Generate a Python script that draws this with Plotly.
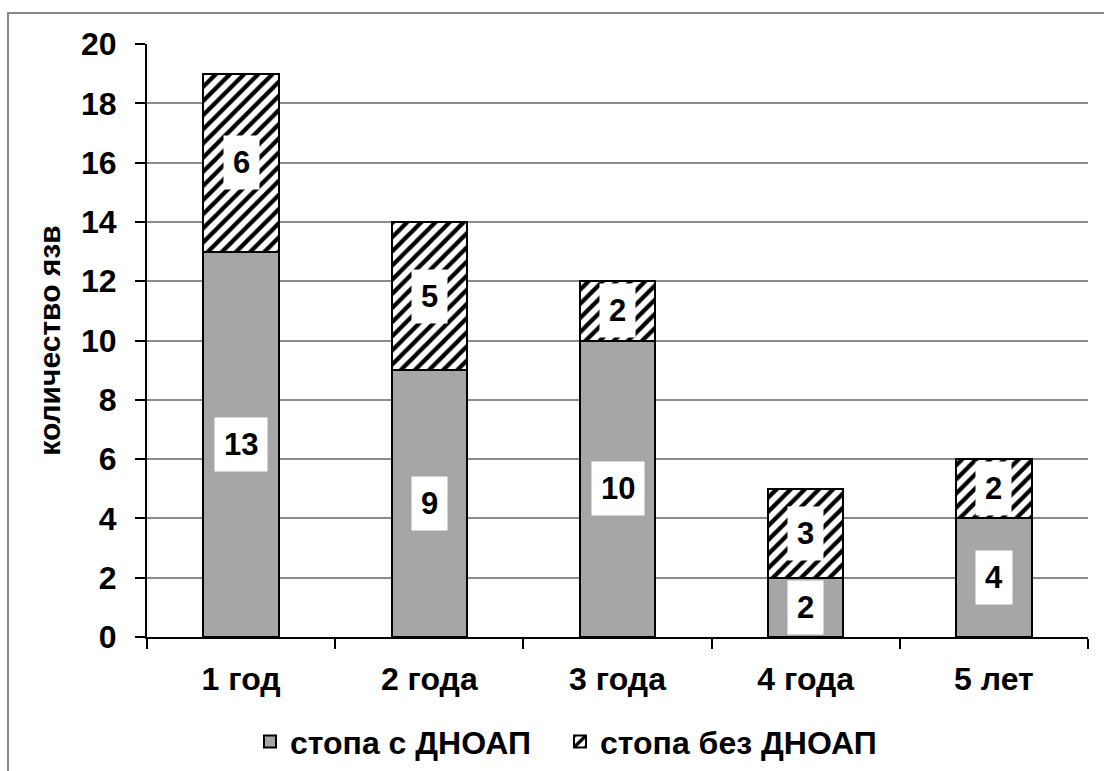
import plotly.graph_objects as go

# Ulcer counts by follow-up period
categories = ["1 год", "2 года", "3 года", "4 года", "5 лет"]
with_dnoap = [13, 9, 10, 2, 4]
without_dnoap = [6, 5, 2, 3, 2]
series_names = ["стопа с ДНОАП", "стопа без ДНОАП"]
y_title = "количество язв"

FONT = "Liberation Sans, Arial, sans-serif"

fig = go.Figure()
fig.add_trace(go.Bar(
    x=categories, y=with_dnoap, name=series_names[0],
    marker=dict(color="#a6a6a6", line=dict(color="black", width=2)),
    width=0.4, legend="legend",
))
fig.add_trace(go.Bar(
    x=categories, y=without_dnoap, name=series_names[1],
    marker=dict(
        color="white", line=dict(color="black", width=2),
        pattern=dict(shape="/", fgcolor="black", bgcolor="white",
                     size=10, solidity=0.42, fillmode="replace"),
    ),
    width=0.4, legend="legend2",
))

# Value labels in white boxes, centred in each stacked segment
annotations = []
for cat, a, b in zip(categories, with_dnoap, without_dnoap):
    for base, val in ((0, a), (a, b)):
        annotations.append(dict(
            x=cat, y=base + val / 2, xref="x", yref="y", text=str(val),
            showarrow=False, bgcolor="white", borderpad=9,
            font=dict(family=FONT, size=31, color="black", weight="bold"),
        ))

legend_style = dict(
    orientation="h", xref="container", xanchor="left",
    yref="container", y=0.038, yanchor="middle",
    font=dict(family=FONT, size=32, color="black", weight="bold"),
    itemwidth=30, bgcolor="rgba(0,0,0,0)",
)

fig.update_layout(
    barmode="stack",
    width=1104, height=771,
    margin=dict(l=147, r=16, t=44, b=134),
    paper_bgcolor="white", plot_bgcolor="white",
    font=dict(family=FONT, color="black"),
    showlegend=True,
    legend=dict(legend_style, x=250 / 1104),
    legend2=dict(legend_style, x=560 / 1104),
    annotations=annotations,
    bargap=0.6,
)
fig.update_xaxes(
    showline=True, linecolor="black", linewidth=2,
    ticks="outside", tickson="boundaries", ticklen=10, tickwidth=2, tickcolor="black",
    tickfont=dict(family=FONT, size=32, color="black", weight="bold"),
    ticklabelstandoff=13,
    showgrid=False,
)
fig.update_yaxes(
    range=[0, 20], dtick=2,
    showline=True, linecolor="black", linewidth=2,
    ticks="outside", ticklen=10, tickwidth=2, tickcolor="black",
    tickfont=dict(family=FONT, size=32, color="black", weight="bold"),
    ticklabelstandoff=12,
    showgrid=True, gridcolor="#8c8c8c", gridwidth=2,
    zeroline=False,
    title=dict(text=y_title, standoff=12,
               font=dict(family=FONT, size=30, color="black", weight="bold")),
)

# Outer chart frame
fig.add_shape(type="rect", xref="paper", yref="paper",
              x0=-0.1477, x1=1.05, y0=-0.25, y1=1.0523,
              line=dict(color="#898989", width=2), layer="below")

fig.write_html("out.html")
